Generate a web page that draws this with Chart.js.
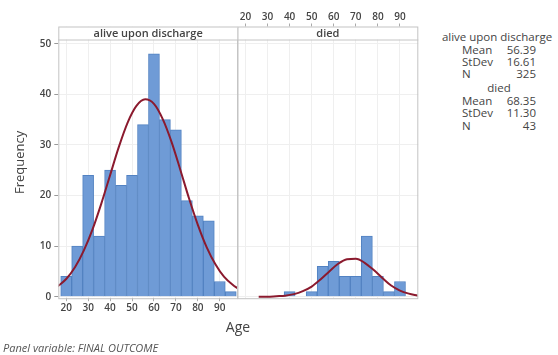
<!DOCTYPE html>
<html>
<head>
<meta charset="utf-8">
<script src="https://cdn.jsdelivr.net/npm/chart.js@4"></script>
<style>
  html, body { margin: 0; padding: 0; background: #fff; }
  #wrap { position: relative; width: 558px; height: 355px; overflow: hidden; font-family: "Open Sans", sans-serif; color: #444; }
  canvas { position: absolute; top: 0; }
  .txt { position: absolute; white-space: nowrap; line-height: 12px; font-size: 11.5px; }
  .lbl { left: 462px; }
  .val { left: 496px; width: 40px; text-align: right; }
</style>
</head>
<body>
<div id="wrap">
  <canvas id="leftChart" width="240" height="320" style="left:0px"></canvas>
  <canvas id="rightChart" width="190" height="320" style="left:236px"></canvas>

  <div class="txt" style="left:436px; top:31px; width:122px; text-align:center;">alive upon discharge</div>
  <div class="txt lbl" style="top:43.5px;">Mean</div><div class="txt val" style="top:43.5px;">56.39</div>
  <div class="txt lbl" style="top:55.5px;">StDev</div><div class="txt val" style="top:55.5px;">16.61</div>
  <div class="txt lbl" style="top:67.5px;">N</div><div class="txt val" style="top:67.5px;">325</div>
  <div class="txt" style="left:438px; top:82px; width:122px; text-align:center;">died</div>
  <div class="txt lbl" style="top:95px;">Mean</div><div class="txt val" style="top:95px;">68.35</div>
  <div class="txt lbl" style="top:107px;">StDev</div><div class="txt val" style="top:107px;">11.30</div>
  <div class="txt lbl" style="top:119.5px;">N</div><div class="txt val" style="top:119.5px;">43</div>

  <div class="txt" style="left:208px; top:319px; width:60px; text-align:center; font-size:14px; line-height:16px;">Age</div>
  <div class="txt" style="left:3px; top:342px; font-size:11px; line-height:12px; font-style:italic; color:#555;">Panel variable: FINAL OUTCOME</div>
</div>
<script>
// histogram bins (5-year bins, centres)
const binCenters = [20, 25, 30, 35, 40, 45, 50, 55, 60, 65, 70, 75, 80, 85, 90, 95];
const aliveCounts = [4, 10, 24, 12, 25, 22, 24, 34, 48, 35, 33, 19, 16, 15, 3, 1];
const diedCounts = [0, 0, 0, 0, 1, 0, 1, 6, 7, 4, 4, 12, 4, 1, 3, 0];

// fitted normal curves
const aliveFitAges = [16, 20, 24, 28, 32, 36, 40, 44, 48, 52, 56, 60, 64, 68, 72, 76, 80, 84, 88, 92, 96, 98];
const aliveFit = [2.0, 3.5, 5.8, 9.1, 13.3, 18.4, 24.0, 29.6, 34.4, 37.7, 39.0, 38.1, 35.1, 30.6, 25.1, 19.4, 14.2, 9.8, 6.4, 3.9, 2.3, 1.7];
const diedFitAges = [26, 30, 34, 38, 42, 46, 50, 54, 58, 62, 66, 70, 74, 78, 82, 86, 90, 94, 98];
const diedFit = [0.0, 0.0, 0.1, 0.2, 0.5, 1.1, 2.0, 3.4, 5.0, 6.5, 7.4, 7.5, 6.7, 5.3, 3.7, 2.2, 1.2, 0.6, 0.2];

const xTicks = [20, 30, 40, 50, 60, 70, 80, 90];
const yTicks = [0, 10, 20, 30, 40, 50];

const BAR_FILL = "#6f9bd6";
const BAR_LINE = "#5282c2";
const FIT_LINE = "#8b1a2e";
const tickFont = { family: "Open Sans", size: 10, weight: "600" };

const pts = (xs, ys) => xs.map((x, i) => ({ x, y: ys[i] }));

// frame + header strip around each panel
const framePlugin = {
  id: "frame",
  afterDraw(chart, args, opts) {
    const { ctx, chartArea: a } = chart;
    ctx.save();
    ctx.fillStyle = "#fff";
    ctx.fillRect(a.left, a.top, a.right - a.left, 13);
    ctx.strokeStyle = "#c4c4c4";
    ctx.lineWidth = 1;
    ctx.strokeRect(a.left + 0.5, a.top + 0.5, a.right - a.left - 1, a.bottom - a.top);
    ctx.beginPath();
    ctx.moveTo(a.left, a.top + 13.5);
    ctx.lineTo(a.right, a.top + 13.5);
    ctx.stroke();
    ctx.fillStyle = "#444";
    ctx.font = "600 11px 'Open Sans'";
    ctx.textAlign = "center";
    ctx.textBaseline = "middle";
    ctx.fillText(opts.title, (a.left + a.right) / 2, a.top + 7);
    ctx.restore();
  }
};

function datasets(counts, fitAges, fit) {
  return [
    {
      type: "line",
      data: pts(fitAges, fit),
      borderColor: FIT_LINE,
      borderWidth: 2,
      pointRadius: 0,
      cubicInterpolationMode: "monotone",
      order: 1
    },
    {
      type: "bar",
      data: pts(binCenters, counts),
      backgroundColor: BAR_FILL,
      borderColor: BAR_LINE,
      borderWidth: 1,
      barPercentage: 1,
      categoryPercentage: 1,
      order: 2
    }
  ];
}

const yScale = (show) => ({
  type: "linear",
  min: -0.3,
  max: 53.4,
  afterBuildTicks: (s) => { s.ticks = yTicks.map((v) => ({ value: v })); },
  afterFit: (s) => { s.width = show ? 58.3 : 0; },
  border: { display: false },
  grid: { color: "#efefef", tickColor: "#999", tickLength: 4, drawTicks: show },
  ticks: { display: show, font: tickFont, color: "#444", padding: 3 },
  title: {
    display: show,
    text: "Frequency",
    font: { family: "Open Sans", size: 13 },
    color: "#444",
    padding: { top: 12, bottom: 12 }
  }
});

const xScale = (pos, h) => ({
  type: "linear",
  position: pos,
  min: 16.4,
  max: 98.3,
  offset: false,
  afterBuildTicks: (s) => { s.ticks = xTicks.map((v) => ({ value: v })); },
  afterFit: (s) => { s.height = h; },
  border: { display: false },
  grid: { color: "#efefef", tickColor: "#aaa", tickLength: 3, offset: false },
  ticks: { font: tickFont, color: "#444", padding: pos === "top" ? 0 : 1, maxRotation: 0 }
});

function makeChart(id, title, counts, fitAges, fit, isLeft) {
  return new Chart(document.getElementById(id), {
    data: { datasets: datasets(counts, fitAges, fit) },
    options: {
      responsive: false,
      animation: false,
      layout: {
        padding: isLeft
          ? { left: 0, top: 26.5, right: 2, bottom: 0 }
          : { left: 1.5, top: 0, right: 7.7, bottom: 21.8 }
      },
      plugins: { legend: { display: false }, tooltip: { enabled: false }, frame: { title } },
      scales: {
        x: isLeft ? xScale("bottom", 21.8) : xScale("top", 26.5),
        y: yScale(isLeft)
      }
    },
    plugins: [framePlugin]
  });
}

makeChart("leftChart", "alive upon discharge", aliveCounts, aliveFitAges, aliveFit, true);
makeChart("rightChart", "died", diedCounts, diedFitAges, diedFit, false);
</script>
</body>
</html>
